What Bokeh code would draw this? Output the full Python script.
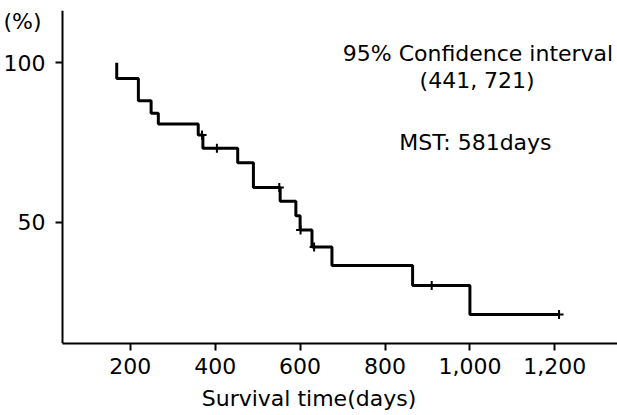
from bokeh.plotting import figure
from bokeh.models import Range1d, FixedTicker, NumeralTickFormatter, Label, ColumnDataSource
from bokeh.embed import file_html
from bokeh.resources import INLINE

# Kaplan-Meier step curve (days, % surviving)
step_days = [168, 168, 219, 249, 266, 360, 371, 453, 490, 553, 590, 600, 628, 675, 865, 1000, 1210]
step_surv = [100, 95.1, 88.1, 84.2, 80.8, 77.4, 73.2, 68.7, 60.9, 56.6, 52.1, 47.6, 42.3, 36.5, 30.2, 21.1, 21.1]

# censored observations
censor_days = [369, 404, 551, 601, 633, 910, 1210]
censor_surv = [77.4, 73.2, 60.9, 47.6, 42.3, 30.2, 21.1]

x_ticks = [200, 400, 600, 800, 1000, 1200]
y_ticks = [50, 100]

ci_title = "95% Confidence interval"
ci_text = "(441, 721)"
mst_text = "MST: 581days"
y_unit = "(%)"
x_title = "Survival time(days)"

FONT = "DejaVu Sans"
X_START, X_END = -105.8, 1347.7
Y_AXIS_AT = 40.3

p = figure(width=617, height=415, output_backend="svg", toolbar_location=None,
           x_range=Range1d(X_START, X_END), y_range=Range1d(12.05, 116.4),
           min_border_left=0, min_border_right=0, min_border_top=10, min_border_bottom=72)
p.grid.visible = False
p.outline_line_color = None
p.background_fill_color = "white"
p.border_fill_color = "white"

src = ColumnDataSource(dict(x=step_days, y=step_surv))
p.step("x", "y", source=src, mode="after", line_color="black", line_width=3)

csrc = ColumnDataSource(dict(x=censor_days, y=censor_surv))
p.scatter("x", "y", source=csrc, marker="cross", size=9, line_color="black", line_width=2)

xa = p.xaxis[0]
xa.ticker = FixedTicker(ticks=x_ticks, minor_ticks=[])
xa.formatter = NumeralTickFormatter(format="0,0")
xa.bounds = (Y_AXIS_AT, X_END)
xa.axis_label = x_title
for ax in (p.xaxis[0], p.yaxis[0]):
    ax.axis_line_width = 2
    ax.axis_line_color = "black"
    ax.major_tick_line_width = 2
    ax.major_tick_line_color = "black"
    ax.major_tick_in = 0
    ax.major_tick_out = 7
    ax.minor_tick_in = 0
    ax.minor_tick_out = 0
    ax.major_label_text_font = FONT
    ax.major_label_text_font_size = "22px"
    ax.major_label_text_color = "black"
xa.major_label_standoff = 7
xa.axis_label_text_font = FONT
xa.axis_label_text_font_size = "22px"
xa.axis_label_text_font_style = "normal"
xa.axis_label_text_color = "black"
xa.axis_label_standoff = 9

ya = p.yaxis[0]
ya.ticker = FixedTicker(ticks=y_ticks, minor_ticks=[])
ya.fixed_location = Y_AXIS_AT
ya.major_label_standoff = 10

for txt, xx, yy in [(ci_title, 1019, 102.9), (ci_text, 1017, 94.5), (mst_text, 1013, 75.1), (y_unit, -54, 112.9)]:
    p.add_layout(Label(x=xx, y=yy, text=txt, text_align="center", text_baseline="middle",
                       text_font=FONT, text_font_size="22px", text_color="black"))

open("out.html", "w").write(file_html(p, INLINE))
